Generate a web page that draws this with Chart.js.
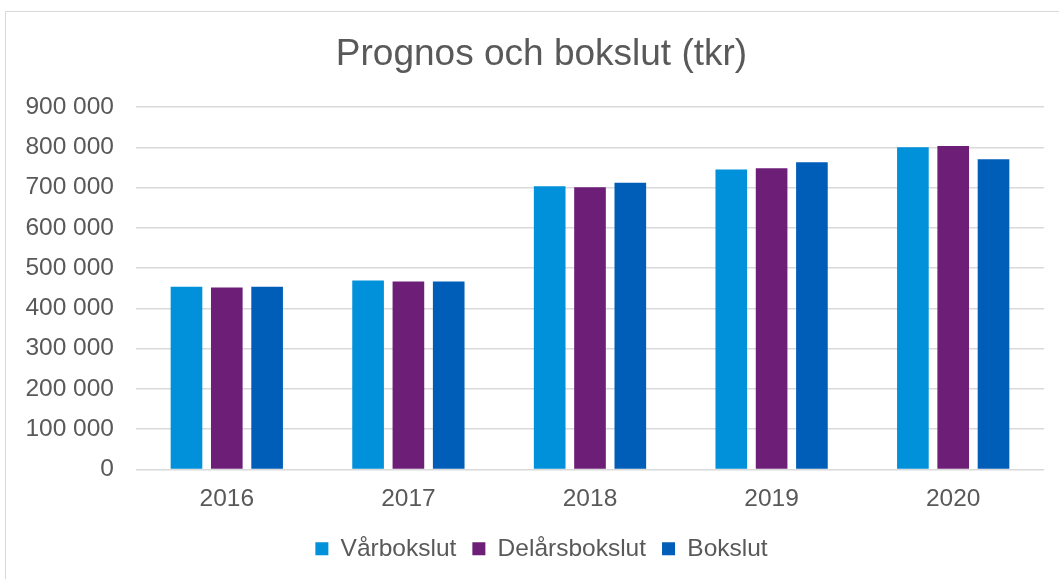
<!DOCTYPE html>
<html>
<head>
<meta charset="utf-8">
<script src="https://cdn.jsdelivr.net/npm/chart.js"></script>
<style>
  html, body { margin: 0; padding: 0; background: #fff; overflow: hidden; }
  #frame { position: absolute; left: 5px; top: 11px; width: 1200px; height: 700px;
           border-left: 1.5px solid #d9d9d9; border-top: 1.5px solid #d9d9d9; }
  #wrap { position: absolute; left: 0; top: 0; width: 1059px; height: 579px; }
</style>
</head>
<body>
<div id="frame"></div>
<div id="wrap"><canvas id="chart" width="1059" height="579"></canvas></div>
<script>
// data
const years = ['2016', '2017', '2018', '2019', '2020'];
const varbokslut = [454000, 469000, 703000, 745000, 800000];
const delarsbokslut = [452000, 467000, 701000, 748000, 803000];
const bokslut = [454000, 467000, 712000, 763000, 770000];
const yTicks = [0, 100000, 200000, 300000, 400000, 500000, 600000, 700000, 800000, 900000];

const textColor = '#595959';
const fontFam = '"Liberation Sans", Arial, sans-serif';

function fmt(v) {
    return String(v).replace(/\B(?=(\d{3})+(?!\d))/g, ' ');
}

new Chart(document.getElementById('chart'), {
    type: 'bar',
    data: {
        labels: years,
        datasets: [
            { label: 'Vårbokslut', data: varbokslut, backgroundColor: '#0091da' },
            { label: 'Delårsbokslut', data: delarsbokslut, backgroundColor: '#6d1f78' },
            { label: 'Bokslut', data: bokslut, backgroundColor: '#005eb8' }
        ]
    },
    options: {
        responsive: false,
        animation: false,
        datasets: { bar: { categoryPercentage: 0.666, barPercentage: 0.785 } },
        layout: { padding: { left: 24, right: 0, top: 0, bottom: 8 } },
        plugins: {
            title: {
                display: true,
                text: 'Prognos och bokslut (tkr)',
                color: textColor,
                font: { family: fontFam, size: 37, weight: 'normal' },
                padding: { top: 33, bottom: 29.6 }
            },
            legend: {
                position: 'bottom',
                labels: {
                    color: textColor,
                    font: { family: fontFam, size: 24.5 },
                    boxWidth: 13,
                    boxHeight: 13,
                    padding: 16
                }
            },
            tooltip: { enabled: false }
        },
        scales: {
            x: {
                grid: { display: false },
                border: { display: false },
                ticks: { color: textColor, font: { family: fontFam, size: 24.5 }, padding: 7 },
                afterFit: s => { s.height = 51; }
            },
            y: {
                min: 0,
                max: 900000,
                afterBuildTicks: s => { s.ticks = yTicks.map(v => ({ value: v })); },
                grid: { color: '#d9d9d9', lineWidth: 1.5, drawTicks: false },
                border: { display: false },
                ticks: {
                    color: textColor,
                    font: { family: fontFam, size: 24.5 },
                    padding: 22,
                    callback: v => fmt(v)
                },
                afterFit: s => { s.width = 112; }
            },
            // empty right axis, just keeps the plot right edge off the frame
            yRight: {
                position: 'right',
                grid: { display: false },
                border: { display: false },
                ticks: { display: false },
                afterFit: s => { s.width = 15; }
            }
        }
    }
});
</script>
</body>
</html>
